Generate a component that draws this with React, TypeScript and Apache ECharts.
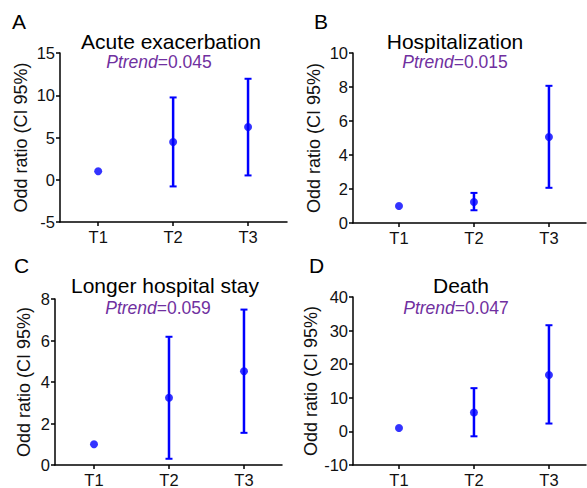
import React, { useEffect, useRef } from "react";
import * as echarts from "echarts";

const categories = ["T1", "T2", "T3"];
const panelLetters = ["A", "B", "C", "D"];
const panelTitles = ["Acute exacerbation", "Hospitalization", "Longer hospital stay", "Death"];
const pTrendValues = ["0.045", "0.015", "0.059", "0.047"];

const orA = [1, 4.46, 6.24];
const loA = [null, -0.79, 0.51];
const hiA = [null, 9.74, 11.95];

const orB = [1, 1.24, 5.06];
const loB = [null, 0.75, 2.07];
const hiB = [null, 1.77, 8.07];

const orC = [1, 3.24, 4.52];
const loC = [null, 0.3, 1.55];
const hiC = [null, 6.18, 7.49];

const orD = [1, 5.6, 16.8];
const loD = [null, -1.46, 2.34];
const hiD = [null, 12.87, 31.6];

const yMin = [-5, 0, 0, -10];
const yMax = [15, 10, 8, 40];
const yInterval = [5, 2, 2, 10];

const BLUE = "#0000ff";
const PURPLE = "#7030a0";
const FONT = "'Liberation Sans', Arial, sans-serif";

const grids = [
  { left: 60, top: 53, width: 227, height: 169 },
  { left: 353, top: 53, width: 233, height: 170 },
  { left: 55, top: 299, width: 227, height: 169 },
  { left: 353, top: 297, width: 233, height: 170 },
];
const xRanges = [
  [0.49, 3.52],
  [0.387, 3.494],
  [0.48, 3.507],
  [0.387, 3.494],
];
const nameGaps = [30, 30, 22, 29];
const letterPos = [
  [12, 22],
  [314, 22],
  [14, 266],
  [309, 266],
];
const titlePos = [
  [171, 41],
  [455, 41],
  [165, 285],
  [461, 285],
];
const pPos = [
  [159, 62],
  [455, 62],
  [158, 308],
  [456, 308],
];

export default function App() {
  const ref = useRef<HTMLDivElement>(null);
  useEffect(() => {
    if (!ref.current) return;
    const chart = echarts.init(ref.current, null, { renderer: "svg" });
    const ors = [orA, orB, orC, orD];
    const los = [loA, loB, loC, loD];
    const his = [hiA, hiB, hiC, hiD];

    const xAxis = grids.map((_, i) => ({
      type: "value",
      gridIndex: i,
      min: xRanges[i][0],
      max: xRanges[i][1],
      axisLine: { show: true, onZero: false, lineStyle: { color: "#000", width: 1.5 } },
      axisTick: { show: true, length: 4, customValues: [1, 2, 3], lineStyle: { color: "#000", width: 1.5 } },
      axisLabel: {
        customValues: [1, 2, 3],
        formatter: (v: number) => categories[Math.round(v) - 1] ?? "",
        fontSize: 16.5,
        color: "#111",
        fontFamily: FONT,
        margin: 6,
      },
      splitLine: { show: false },
    }));

    const yAxis = grids.map((_, i) => ({
      type: "value",
      gridIndex: i,
      min: yMin[i],
      max: yMax[i],
      interval: yInterval[i],
      name: "Odd ratio (CI 95%)",
      nameLocation: "middle",
      nameGap: nameGaps[i],
      nameTextStyle: { fontSize: 18, color: "#111", fontFamily: FONT },
      axisLine: { show: true, lineStyle: { color: "#000", width: 1.5 } },
      axisTick: { show: true, length: 4, lineStyle: { color: "#000", width: 1.5 } },
      axisLabel: { fontSize: 16.5, color: "#111", fontFamily: FONT, margin: 5 },
      splitLine: { show: false },
    }));

    const series: any[] = [];
    ors.forEach((or, i) => {
      const errData: number[][] = [];
      or.forEach((_, k) => {
        const lo = los[i][k];
        const hi = his[i][k];
        if (lo !== null && hi !== null) errData.push([k + 1, lo as number, hi as number]);
      });
      series.push({
        type: "custom",
        xAxisIndex: i,
        yAxisIndex: i,
        data: errData,
        encode: { x: 0, y: [1, 2] },
        renderItem: (params: any, api: any) => {
          const x = api.value(0);
          const pLo = api.coord([x, api.value(1)]);
          const pHi = api.coord([x, api.value(2)]);
          const cw = 3.5;
          const st = { stroke: BLUE, lineWidth: 2.5 };
          return {
            type: "group",
            children: [
              { type: "line", shape: { x1: pLo[0], y1: pLo[1], x2: pHi[0], y2: pHi[1] }, style: st },
              { type: "line", shape: { x1: pLo[0] - cw, y1: pLo[1], x2: pLo[0] + cw, y2: pLo[1] }, style: { stroke: BLUE, lineWidth: 2 } },
              { type: "line", shape: { x1: pHi[0] - cw, y1: pHi[1], x2: pHi[0] + cw, y2: pHi[1] }, style: { stroke: BLUE, lineWidth: 2 } },
            ],
          };
        },
        z: 2,
      });
      series.push({
        type: "scatter",
        xAxisIndex: i,
        yAxisIndex: i,
        data: or.map((v, k) => [k + 1, v]),
        symbol: "circle",
        symbolSize: 8,
        itemStyle: { color: BLUE },
        z: 3,
      });
    });

    const graphic: any[] = [];
    for (let i = 0; i < 4; i++) {
      graphic.push({
        type: "text",
        left: letterPos[i][0],
        top: letterPos[i][1] - 11,
        style: { text: panelLetters[i], fontSize: 21, fill: "#000", fontFamily: FONT },
      });
      graphic.push({
        type: "text",
        x: titlePos[i][0],
        y: titlePos[i][1],
        style: {
          text: panelTitles[i],
          fontSize: 21,
          fill: "#000",
          fontFamily: FONT,
          align: "center",
          verticalAlign: "middle",
        },
      });
      graphic.push({
        type: "text",
        x: pPos[i][0],
        y: pPos[i][1],
        style: {
          text: "{i|Ptrend}{n|=" + pTrendValues[i] + "}",
          align: "center",
          verticalAlign: "middle",
          rich: {
            i: { fontSize: 17.5, fontStyle: "italic", fill: PURPLE, fontFamily: FONT },
            n: { fontSize: 17.5, fill: PURPLE, fontFamily: FONT },
          },
        },
      });
    }

    chart.setOption({
      animation: false,
      backgroundColor: "#fff",
      grid: grids,
      xAxis,
      yAxis,
      series,
      graphic,
    } as any);
    return () => chart.dispose();
  }, []);
  return <div ref={ref} style={{ position: "fixed", left: 0, top: 0, width: 587, height: 488 }} />;
}
